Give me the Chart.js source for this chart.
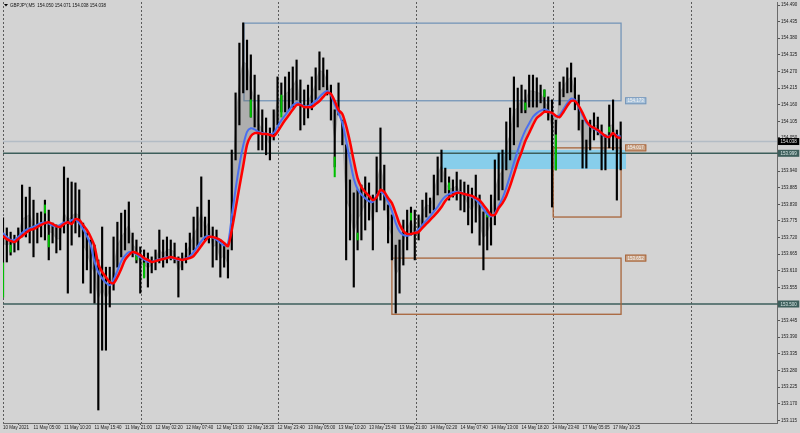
<!DOCTYPE html>
<html>
<head>
<meta charset="utf-8">
<script src="https://cdn.jsdelivr.net/npm/chart.js@4.4.1/dist/chart.umd.min.js"></script>
<style>
  html, body { margin: 0; padding: 0; background: #d3d3d3; }
  #wrap { width: 800px; height: 433px; position: relative; }
</style>
</head>
<body>
<div id="wrap"><canvas id="chart"></canvas></div>
<script>
// GBPJPY M5, one point = 8 five-minute bars
const symbolTitle = 'GBPJPY,M5  154.050 154.071 154.038 154.038';

const timeLabels = ['10 May 2021', '11 May 05:00', '11 May 10:20', '11 May 15:40', '11 May 21:00',
  '12 May 02:20', '12 May 07:40', '12 May 13:00', '12 May 18:20', '12 May 23:40',
  '13 May 05:00', '13 May 10:20', '13 May 15:40', '13 May 21:00', '14 May 02:20',
  '14 May 07:40', '14 May 13:00', '14 May 18:20', '14 May 23:40', '17 May 05:05', '17 May 10:25'];

const priceTicks = [153.115, 153.170, 153.225, 153.280, 153.335, 153.390, 153.445, 153.500,
  153.555, 153.610, 153.665, 153.720, 153.775, 153.830, 153.885, 153.940, 153.995, 154.050,
  154.105, 154.160, 154.215, 154.270, 154.325, 154.380, 154.435, 154.490];

const barHigh = [153.785,153.752,153.738,153.728,153.752,153.894,153.854,153.887,153.844,153.801,
  153.805,153.844,153.811,153.768,153.762,153.755,153.954,153.917,153.904,153.901,
  153.878,153.768,153.735,153.712,153.695,153.646,153.755,153.622,153.622,153.722,
  153.771,153.801,153.811,153.838,153.735,153.712,153.689,153.679,153.669,153.656,
  153.679,153.745,153.712,153.722,153.712,153.702,153.656,153.669,153.702,153.735,
  153.788,153.821,153.921,153.788,153.844,153.755,153.745,153.712,153.702,153.679,
  154.010,154.199,154.364,154.431,154.374,154.325,154.258,154.192,154.143,154.116,
  154.083,154.143,154.252,154.232,154.252,154.268,154.285,154.308,154.242,154.209,
  154.225,154.252,154.282,154.335,154.315,154.275,154.225,154.143,154.232,154.109,
  154.027,153.911,153.868,153.878,153.894,153.921,153.901,153.861,153.987,154.083,
  153.960,153.828,153.795,153.695,153.712,153.778,153.811,153.821,153.811,153.795,
  153.844,153.868,153.851,153.927,153.987,154.010,153.950,153.921,153.911,153.937,
  153.911,153.904,153.894,153.884,153.927,153.861,153.805,153.795,153.861,153.977,
  154.000,154.010,154.103,154.149,154.252,154.215,154.225,154.209,154.258,154.258,
  154.249,154.225,154.209,154.186,154.176,154.109,154.235,154.252,154.282,154.298,
  154.249,154.192,154.109,154.043,154.109,154.133,154.119,154.093,154.060,154.159,
  154.176,154.076,154.103];

const barLow = [153.523,153.639,153.662,153.672,153.679,153.722,153.722,153.702,153.656,153.702,
  153.722,153.712,153.646,153.702,153.669,153.679,153.735,153.536,153.695,153.735,
  153.722,153.569,153.613,153.536,153.503,153.149,153.347,153.347,153.490,153.546,
  153.622,153.656,153.679,153.702,153.656,153.636,153.536,153.589,153.556,153.603,
  153.613,153.636,153.622,153.636,153.646,153.636,153.523,153.613,153.636,153.656,
  153.679,153.689,153.722,153.712,153.702,153.622,153.646,153.589,153.622,153.586,
  153.679,153.977,154.093,154.199,154.209,154.119,154.086,154.010,154.010,153.994,
  153.977,154.043,154.093,154.136,154.136,154.143,154.152,154.176,154.076,154.093,
  154.116,154.143,154.176,154.209,154.219,154.192,154.109,153.954,154.126,154.027,
  153.646,153.712,153.556,153.679,153.712,153.745,153.778,153.679,153.805,153.844,
  153.811,153.702,153.646,153.470,153.536,153.629,153.679,153.728,153.646,153.712,
  153.762,153.788,153.801,153.811,153.861,153.904,153.868,153.844,153.854,153.844,
  153.811,153.805,153.762,153.735,153.771,153.695,153.613,153.679,153.695,153.762,
  153.844,153.878,153.944,153.977,154.027,154.086,154.133,154.133,154.152,154.152,
  154.152,154.166,154.136,154.109,153.821,153.944,154.159,154.186,154.199,154.202,
  154.143,154.076,153.950,153.950,154.010,154.043,154.060,153.944,153.944,154.017,
  154.010,153.844,153.944];

// slow moving average (red)
const maSlow = [153.725,153.715,153.709,153.705,153.715,153.725,153.735,153.745,153.748,153.755,
  153.762,153.768,153.771,153.765,153.758,153.755,153.765,153.771,153.765,153.781,
  153.778,153.762,153.745,153.722,153.692,153.632,153.606,153.589,153.573,153.569,
  153.589,153.616,153.646,153.662,153.672,153.669,153.662,153.652,153.646,153.639,
  153.642,153.646,153.649,153.652,153.656,153.652,153.649,153.646,153.649,153.652,
  153.659,153.675,153.692,153.709,153.722,153.722,153.718,153.712,153.702,153.692,
  153.745,153.815,153.887,153.957,154.027,154.056,154.066,154.066,154.063,154.063,
  154.060,154.056,154.070,154.090,154.109,154.126,154.143,154.159,154.159,154.152,
  154.152,154.152,154.162,154.172,154.186,154.199,154.196,154.172,154.143,154.129,
  154.090,154.037,153.974,153.917,153.887,153.871,153.858,153.844,153.854,153.878,
  153.871,153.851,153.834,153.801,153.765,153.742,153.732,153.732,153.735,153.738,
  153.752,153.765,153.778,153.791,153.805,153.821,153.841,153.854,153.861,153.868,
  153.868,153.864,153.861,153.858,153.851,153.844,153.828,153.811,153.795,153.795,
  153.818,153.834,153.858,153.891,153.930,153.970,154.003,154.040,154.066,154.093,
  154.116,154.126,154.136,154.136,154.133,154.123,154.119,154.136,154.156,154.172,
  154.172,154.156,154.133,154.106,154.090,154.083,154.076,154.066,154.056,154.053,
  154.066,154.053,154.050];

// fast moving average (blue)
const maFast = [153.735,153.722,153.712,153.712,153.722,153.735,153.745,153.750,153.756,153.762,
  153.768,153.770,153.766,153.760,153.757,153.762,153.770,153.768,153.778,153.780,
  153.768,153.748,153.725,153.695,153.640,153.605,153.585,153.570,153.562,153.580,
  153.610,153.642,153.660,153.672,153.672,153.664,153.655,153.647,153.640,153.640,
  153.644,153.648,153.651,153.655,153.654,153.650,153.646,153.647,153.651,153.658,
  153.672,153.690,153.708,153.722,153.725,153.720,153.713,153.703,153.694,153.700,
  153.790,153.880,153.960,154.025,154.070,154.082,154.078,154.070,154.066,154.064,
  154.062,154.066,154.088,154.108,154.125,154.142,154.158,154.166,154.162,154.155,
  154.155,154.162,154.172,154.186,154.198,154.205,154.192,154.160,154.132,154.100,
  154.040,153.975,153.915,153.880,153.862,153.850,153.840,153.838,153.860,153.872,
  153.862,153.838,153.808,153.768,153.740,153.728,153.726,153.730,153.736,153.748,
  153.762,153.776,153.790,153.806,153.822,153.842,153.856,153.864,153.870,153.872,
  153.870,153.864,153.860,153.854,153.846,153.832,153.815,153.798,153.790,153.800,
  153.825,153.850,153.885,153.925,153.968,154.008,154.045,154.075,154.098,154.120,
  154.132,154.140,154.145,154.140,154.130,154.122,154.126,154.145,154.165,154.180,
  154.176,154.152,154.125,154.100,154.088,154.080,154.072,154.062,154.054,154.056,
  154.064,154.058,154.055];

// outer edge of the grey MA ribbon (fastest average, hugs price)
const ribbonEdge = [153.700,153.696,153.700,153.700,153.716,153.780,153.788,153.795,153.750,153.752,
  153.764,153.778,153.740,153.735,153.716,153.717,153.800,153.780,153.790,153.800,
  153.790,153.700,153.670,153.630,153.600,153.520,153.550,153.520,153.550,153.620,
  153.690,153.720,153.740,153.760,153.700,153.680,153.630,153.630,153.620,153.630,
  153.645,153.680,153.665,153.680,153.680,153.670,153.610,153.640,153.670,153.695,
  153.730,153.755,153.800,153.750,153.770,153.690,153.695,153.650,153.660,153.635,
  153.850,154.088,154.230,154.300,154.292,154.222,154.172,154.101,154.077,154.055,
  154.030,154.093,154.173,154.184,154.194,154.206,154.219,154.242,154.159,154.151,
  154.171,154.198,154.229,154.272,154.267,154.234,154.167,154.049,154.150,154.068,
  153.850,153.812,153.740,153.779,153.803,153.833,153.840,153.770,153.896,153.950,
  153.886,153.765,153.721,153.600,153.624,153.704,153.745,153.775,153.740,153.754,
  153.803,153.828,153.826,153.869,153.924,153.957,153.909,153.883,153.883,153.891,
  153.861,153.855,153.828,153.810,153.849,153.778,153.720,153.737,153.778,153.870,
  153.922,153.944,154.024,154.063,154.140,154.151,154.179,154.171,154.205,154.205,
  154.201,154.196,154.173,154.148,154.080,154.060,154.197,154.219,154.241,154.250,
  154.196,154.134,154.030,154.000,154.060,154.088,154.090,154.019,154.002,154.088,
  154.093,154.000,154.024];

// a few bull bodies drawn in green
const greenIdx  = [0, 2, 11, 12, 35, 37, 65, 73, 87, 93, 107, 117, 127, 137, 142, 145, 159];
const greenLow  = [153.523,153.672,153.801,153.689,153.646,153.586,154.119,154.119,153.921,153.712,153.778,153.878,153.788,154.143,154.186,153.944,154.070];
const greenHigh = [153.636,153.695,153.828,153.728,153.672,153.636,154.176,154.192,153.987,153.735,153.801,153.901,153.811,154.166,154.209,154.060,154.086];

const daySeparators = [0, 36.2, 72.1, 108.3, 144.3, 180.5];
const bidPrice = 154.038;
const levelLines = [153.999, 153.500];

// rectangles: [from bar, to bar, top price, bottom price]
const rectFrom   = [63.2, 144.3, 102.0];
const rectTo     = [162.1, 162.1, 162.1];
const rectTop    = [154.430, 154.017, 153.652];
const rectBottom = [154.173, 153.788, 153.466];
const rectLabel  = ['154.173', '154.017', '153.652'];
const rectColors = ['#7595b8', '#a8653b', '#a8653b'];
const zoneFrom = 115.1, zoneTo = 163.4, zoneTop = 154.010, zoneBottom = 153.947;

const FONT = 'Liberation Sans, Arial, sans-serif';

function badge(ctx, text, x, yc, bg, fg, border) {
  ctx.font = '4.5px ' + FONT;
  const w = ctx.measureText(text).width + 5;
  ctx.fillStyle = bg;
  ctx.fillRect(x, yc - 3.5, w, 7);
  if (border) { ctx.strokeStyle = border; ctx.lineWidth = 1; ctx.strokeRect(x + 0.5, yc - 3, w - 1, 6); }
  ctx.fillStyle = fg;
  ctx.textBaseline = 'middle';
  ctx.textAlign = 'left';
  ctx.fillText(text, x + 2.5, yc + 0.3);
}

const mtObjects = {
  id: 'mtObjects',
  beforeDraw(chart) {
    const ctx = chart.ctx;
    ctx.save();
    ctx.fillStyle = '#d3d3d3';
    ctx.fillRect(0, 0, chart.width, chart.height);
    ctx.restore();
  },
  beforeDatasetsDraw(chart) {
    const { ctx, chartArea: a, scales: { x, y } } = chart;
    ctx.save();
    // zone
    ctx.fillStyle = '#87ceeb';
    const zx0 = x.getPixelForValue(zoneFrom), zx1 = x.getPixelForValue(zoneTo);
    const zy0 = y.getPixelForValue(zoneTop), zy1 = y.getPixelForValue(zoneBottom);
    ctx.fillRect(zx0, zy0, zx1 - zx0, zy1 - zy0);
    // day separators
    ctx.strokeStyle = '#5a5a5a';
    ctx.lineWidth = 1;
    ctx.setLineDash([2, 2]);
    daySeparators.forEach(d => {
      const px = Math.round(x.getPixelForValue(d)) + 0.5;
      ctx.beginPath(); ctx.moveTo(px, a.top); ctx.lineTo(px, a.bottom); ctx.stroke();
    });
    ctx.setLineDash([]);
    // bid line
    ctx.strokeStyle = '#b3bcc5';
    ctx.lineWidth = 1.5;
    const py = y.getPixelForValue(bidPrice);
    ctx.beginPath(); ctx.moveTo(a.left, py); ctx.lineTo(a.right, py); ctx.stroke();
    // horizontal levels
    ctx.strokeStyle = '#3d5e5b';
    levelLines.forEach(v => {
      const ly = y.getPixelForValue(v);
      ctx.beginPath(); ctx.moveTo(a.left, ly); ctx.lineTo(a.right + 1, ly); ctx.stroke();
    });
    // rectangles
    ctx.lineWidth = 1.3;
    rectFrom.forEach((f, k) => {
      const x0 = x.getPixelForValue(f), x1 = x.getPixelForValue(rectTo[k]);
      const y0 = y.getPixelForValue(rectTop[k]), y1 = y.getPixelForValue(rectBottom[k]);
      ctx.strokeStyle = rectColors[k];
      ctx.strokeRect(x0, y0, x1 - x0, y1 - y0);
    });
    ctx.restore();
  },
  afterDraw(chart) {
    const { ctx, chartArea: a, scales: { x, y } } = chart;
    ctx.save();
    // title
    ctx.fillStyle = '#000';
    ctx.beginPath(); ctx.moveTo(4, 4); ctx.lineTo(8, 4); ctx.lineTo(6, 6.5); ctx.closePath(); ctx.fill();
    ctx.font = '4.5px ' + FONT;
    ctx.textBaseline = 'middle';
    ctx.textAlign = 'left';
    ctx.fillStyle = '#111';
    ctx.fillText(symbolTitle, 10, 5.5);
    // object price labels
    rectFrom.forEach((f, k) => {
      const v = k === 0 ? rectBottom[k] : rectTop[k];
      const lx = x.getPixelForValue(rectTo[k]) + 4;
      const bg = k === 0 ? '#a9c3db' : '#c9a488';
      badge(ctx, rectLabel[k], lx, y.getPixelForValue(v), bg, '#f4f4f4', rectColors[k]);
    });
    // axis badges
    badge(ctx, bidPrice.toFixed(3), a.right + 1, y.getPixelForValue(bidPrice), '#000', '#e8e8e8');
    levelLines.forEach(v => badge(ctx, v.toFixed(3), a.right + 1, y.getPixelForValue(v), '#3d5e5b', '#d8e8e6'));
    ctx.restore();
  }
};

const candles = barHigh.map((h, i) => ({ x: i, y: [barLow[i], h] }));
const bulls = greenIdx.map((i, k) => ({ x: i, y: [greenLow[k], greenHigh[k]] }));

new Chart(document.getElementById('chart'), {
  type: 'bar',
  data: {
    datasets: [
      { type: 'line', label: 'MA slow', data: maSlow.map((v, i) => ({ x: i, y: v })),
        borderColor: '#ff0000', borderWidth: 2.5, pointRadius: 0, tension: 0.25, order: 0 },
      { type: 'line', label: 'MA fast', data: maFast.map((v, i) => ({ x: i, y: v })),
        borderColor: '#4a6ff0', borderWidth: 2, pointRadius: 0, tension: 0.25, order: 1 },
      { type: 'line', label: 'ribbon', data: ribbonEdge.map((v, i) => ({ x: i, y: v })),
        borderColor: 'rgba(100,100,100,0.45)', borderWidth: 0.7, pointRadius: 0, tension: 0.25,
        fill: { target: 0 }, backgroundColor: 'rgba(95,95,95,0.32)', order: 4 },
      { type: 'bar', label: 'bull', data: bulls, backgroundColor: '#00c000',
        barThickness: 1.4, grouped: false, order: 2 },
      { type: 'bar', label: 'GBPJPY', data: candles, backgroundColor: '#000000',
        barThickness: 1.5, grouped: false, order: 3 }
    ]
  },
  options: {
    responsive: true,
    maintainAspectRatio: false,
    devicePixelRatio: 1,
    animation: false,
    layout: { padding: { left: 3, top: 2, right: 0, bottom: 0 } },
    plugins: { legend: { display: false }, tooltip: { enabled: false } },
    scales: {
      x: {
        type: 'linear', min: 0, max: 203, offset: false,
        afterBuildTicks: s => { s.ticks = timeLabels.map((t, k) => ({ value: k * 8 })); },
        afterFit: s => { s.height = 10; s.paddingLeft = 0; s.paddingRight = 0; },
        ticks: { autoSkip: false, maxRotation: 0, align: 'start', padding: 0,
          font: { family: FONT, size: 4.5 }, color: '#1a1a1a',
          callback: (v, k) => timeLabels[k] },
        grid: { drawOnChartArea: false, tickLength: 2, color: '#555' },
        border: { color: '#6a6a6a', width: 1 }
      },
      y: {
        position: 'right', min: 153.106, max: 154.500,
        afterBuildTicks: s => { s.ticks = priceTicks.map(v => ({ value: v })); },
        afterFit: s => { s.width = 23; s.paddingTop = 0; s.paddingBottom = 0; },
        ticks: { autoSkip: false, padding: 1, font: { family: FONT, size: 4.5 }, color: '#1a1a1a',
          callback: v => v.toFixed(3) },
        grid: { drawOnChartArea: false, tickLength: 3, color: '#555' },
        border: { color: '#6a6a6a', width: 1 }
      }
    }
  },
  plugins: [mtObjects]
});
</script>
</body>
</html>
